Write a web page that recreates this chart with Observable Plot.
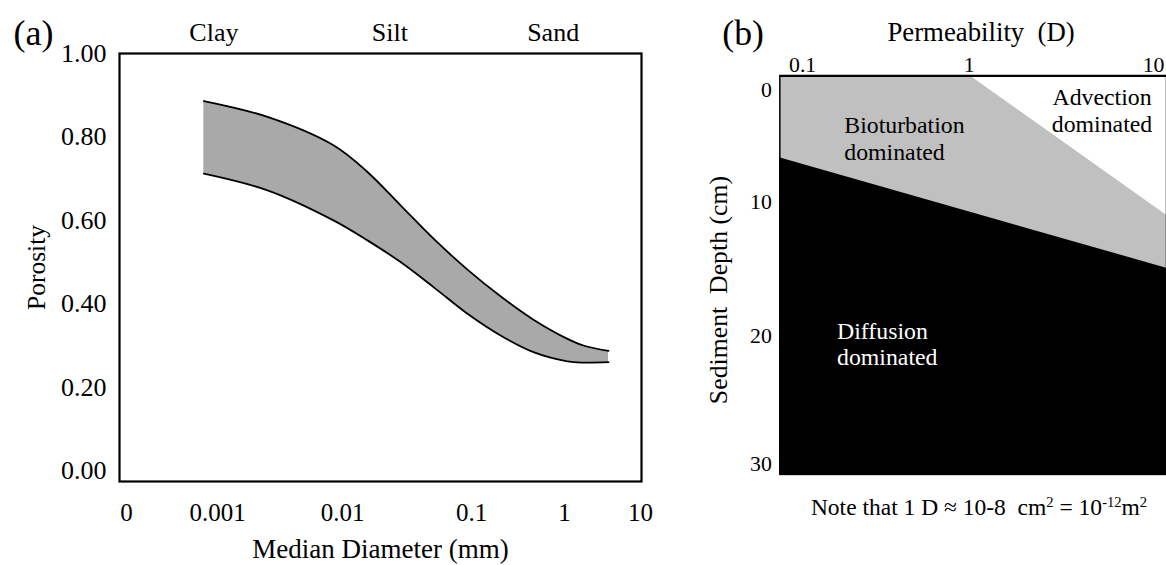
<!DOCTYPE html>
<html><head><meta charset="utf-8">
<script src="https://cdn.jsdelivr.net/npm/d3@7"></script>
<script src="https://cdn.jsdelivr.net/npm/@observablehq/plot@0.6"></script>
<style>
body{margin:0;background:#fff;}
#wrap{position:relative;width:1166px;height:565px;overflow:hidden;font-family:"Liberation Serif","Times New Roman",serif;}
#a{position:absolute;left:0;top:0;}
#b{position:absolute;left:700px;top:0;}
#note{position:absolute;left:779px;width:400px;top:494px;font-size:23.5px;line-height:26px;text-align:center;color:#000;white-space:nowrap;}
#note sup{font-size:0.62em;vertical-align:0.55em;line-height:0;}
</style></head><body>
<div id="wrap"><div id="a"></div><div id="b"></div>
<div id="note">Note that 1 D ≈ 10-8 &nbsp;cm<sup>2</sup> = 10<sup>-12</sup>m<sup>2</sup></div></div>
<script>
// ---------- panel (a) data ----------
const diameter      = [0.00085, 0.0046, 0.00935, 0.0274, 0.0505, 0.0735, 0.0972, 0.381, 0.700, 1.355, 3.25, 6.21];
const porosityUpper = [0.886, 0.848, 0.780, 0.716, 0.636, 0.556, 0.482, 0.418, 0.362, 0.316, 0.300, 0.287];
const porosityLower = [0.712, 0.672, 0.600, 0.552, 0.500, 0.440, 0.376, 0.324, 0.284, 0.262, 0.259, 0.260];
const diameterTicks = [0, 0.001, 0.01, 0.1, 1, 10];
const porosityTicks = [0, 0.2, 0.4, 0.6, 0.8, 1.0];
const sizeClasses = ["Clay", "Silt", "Sand"];
const sizeClassDiameter = [0.00096, 0.043, 0.89];

// ---------- panel (b) data ----------
const permTicks = [0.1, 1, 10];
const depthTicks = [0, 10, 20, 30];
const advectionPerm = [1, 12];          // advection / bioturbation boundary
const advectionDepth = [-1.3, 11.1];
const diffusionPerm = [0.07, 12];       // bioturbation / diffusion boundary
const diffusionDepth = [6, 15];
const regionNames = ["Bioturbation\ndominated", "Advection\ndominated", "Diffusion\ndominated"];
const regionPerm = [0.178, 5.25, 0.161];
const regionDepth = [4.3, 1.8, 20.6];

const FONT = '"Liberation Serif","Times New Roman",serif';

const band = diameter.map((d, i) => ({d, hi: porosityUpper[i], lo: porosityLower[i]}));

const plotA = Plot.plot({
  width: 700, height: 565,
  marginLeft: 119, marginRight: 59, marginTop: 53, marginBottom: 84,
  style: {fontFamily: FONT, fontSize: "25px", color: "#000", background: "none", overflow: "visible"},
  x: {type: "linear", domain: diameterTicks, range: [126, 217, 342, 471, 564, 640], label: null},
  y: {domain: [-0.026, 1], range: [481, 53], label: null},
  marks: [
    Plot.areaY(band, {x: "d", y1: "lo", y2: "hi", curve: "catmull-rom", fill: "#a9a9a9"}),
    Plot.lineY(band, {x: "d", y: "hi", curve: "catmull-rom", stroke: "#000", strokeWidth: 1.8}),
    Plot.lineY(band, {x: "d", y: "lo", curve: "catmull-rom", stroke: "#000", strokeWidth: 1.8}),
    Plot.frame({stroke: "#000", strokeWidth: 2.2}),
    Plot.axisX({ticks: diameterTicks, tickSize: 0, tickPadding: 22, tickFormat: d => String(d), label: null, fontSize: 25}),
    Plot.axisY({ticks: porosityTicks, tickSize: 0, tickPadding: 13, tickFormat: d => d.toFixed(2), label: null, fontSize: 26}),
    Plot.text(sizeClasses, {x: (d, i) => sizeClassDiameter[i], text: d => d, frameAnchor: "top", lineAnchor: "middle", dy: -21, fontSize: 26}),
    Plot.text(["Median Diameter (mm)"], {text: d => d, frameAnchor: "bottom", lineAnchor: "middle", dy: 68, fontSize: 27}),
    Plot.text(["Porosity"], {text: d => d, frameAnchor: "left", textAnchor: "middle", lineAnchor: "middle", dx: -83, rotate: -90, fontSize: 25.5}),
    Plot.text(["(a)"], {text: d => d, frameAnchor: "top-left", textAnchor: "start", lineAnchor: "middle", dx: -106, dy: -20, fontSize: 36})
  ]
});
document.getElementById("a").appendChild(plotA);

const adv = advectionPerm.map((p, i) => ({p, d: advectionDepth[i]}));
const dif = diffusionPerm.map((p, i) => ({p, d: diffusionDepth[i]}));
const labels = regionNames.map((t, i) => ({t, p: regionPerm[i], d: regionDepth[i]}));

const plotB = Plot.plot({
  width: 470, height: 565,
  marginLeft: 80, marginRight: 0, marginTop: 76, marginBottom: 87,
  style: {fontFamily: FONT, fontSize: "22px", color: "#000", background: "none", overflow: "visible"},
  x: {type: "log", domain: permTicks, range: [103, 271, 457], label: null},
  y: {type: "linear", domain: depthTicks, range: [90, 203, 338, 468], label: null},
  marks: [
    Plot.frame({fill: "#c0c0c0"}),
    Plot.areaY(adv, {x: "p", y1: () => -5, y2: "d", fill: "#fff", clip: true}),
    Plot.areaY(dif, {x: "p", y1: "d", y2: () => 40, fill: "#000", clip: true}),
    Plot.frame({stroke: "#000", strokeWidth: 1.5}),
    Plot.ruleY([0], {y: () => -1.24, stroke: "#000", strokeWidth: 2.2}),
    Plot.axisX({anchor: "top", ticks: permTicks, tickSize: 0, tickPadding: 4, tickFormat: d => String(d), label: null, fontSize: 22}),
    Plot.axisY({ticks: depthTicks, tickSize: 0, tickPadding: 8, tickFormat: d => String(d), label: null, fontSize: 22}),
    Plot.text([labels[0]], {x: "p", y: "d", text: "t", textAnchor: "start", fill: "#000", fontSize: 24, lineHeight: 1.12}),
    Plot.text([labels[1]], {x: "p", y: "d", text: "t", textAnchor: "middle", fill: "#000", fontSize: 24, lineHeight: 1.12}),
    Plot.text([labels[2]], {x: "p", y: "d", text: "t", textAnchor: "start", fill: "#fff", fontSize: 24, lineHeight: 1.12}),
    Plot.text(["Permeability  (D)"], {text: d => d, frameAnchor: "top", lineAnchor: "middle", dx: 8, dy: -44, fontSize: 27}),
    Plot.text(["Sediment  Depth (cm)"], {text: d => d, frameAnchor: "left", textAnchor: "middle", lineAnchor: "middle", dx: -62, dy: 15, rotate: -90, fontSize: 26}),
    Plot.text(["(b)"], {text: d => d, frameAnchor: "top-left", textAnchor: "start", lineAnchor: "middle", dx: -58, dy: -43, fontSize: 36})
  ]
});
document.getElementById("b").appendChild(plotB);
</script>
</body></html>
